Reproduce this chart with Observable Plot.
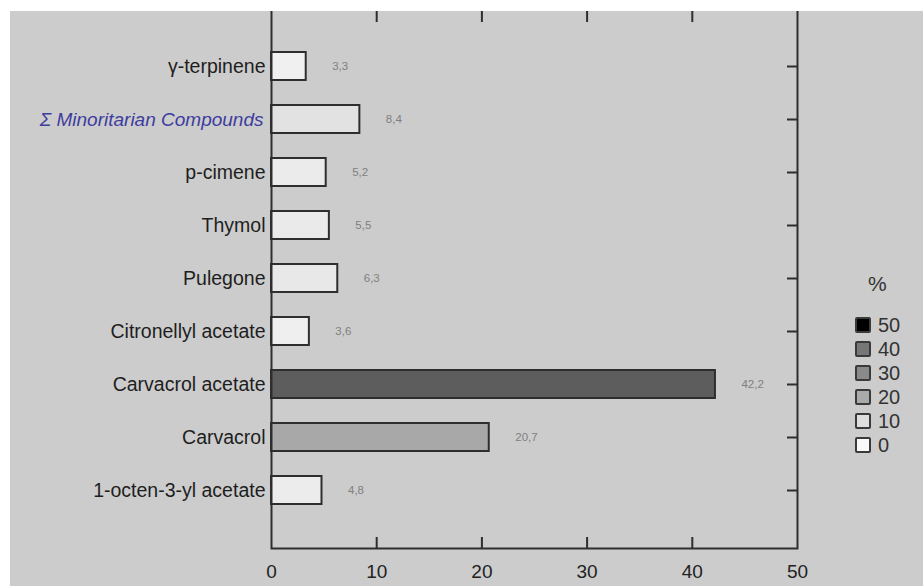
<!DOCTYPE html>
<html>
<head>
<meta charset="utf-8">
<script src="https://cdn.jsdelivr.net/npm/d3@7"></script>
<script src="https://cdn.jsdelivr.net/npm/@observablehq/plot@0.6"></script>
<style>
  html, body { margin: 0; padding: 0; background: #ffffff; width: 923px; height: 586px; overflow: hidden; }
  #panel { position: absolute; left: 10px; top: 11px; width: 913px; height: 575px; background: #cccccc; overflow: hidden; }
  #chart { position: absolute; left: -10px; top: -11px; }
  #legend { position: absolute; left: 0; top: 0; font-family: "Liberation Sans", Arial, sans-serif; color: #333; }
  .lg-title { position: absolute; left: 858px; top: 261px; font-size: 21px; }
  .lg-row { position: absolute; left: 845px; height: 20px; display: flex; align-items: center; font-size: 20px; white-space: nowrap; }
  .lg-sw { width: 12px; height: 12px; border: 2px solid #3a3a3a; border-radius: 2px; margin-right: 7px; }
</style>
</head>
<body>
<div id="panel"><div id="chart"></div><div id="legend"></div></div>
<script>
const compounds = ["γ-terpinene", "Σ Minoritarian Compounds", "p-cimene", "Thymol", "Pulegone", "Citronellyl acetate", "Carvacrol acetate", "Carvacrol", "1-octen-3-yl acetate"];
const values = [3.3, 8.4, 5.2, 5.5, 6.3, 3.6, 42.2, 20.7, 4.8];
const xTicks = [0, 10, 20, 30, 40, 50];
const legendValues = [50, 40, 30, 20, 10, 0];
const colorStops = [0, 10, 20, 30, 40, 50];
const colorRange = ["#f9f9f9", "#dedede", "#aaaaaa", "#8a8a8a", "#777777", "#000000"];

const data = compounds.map((name, i) => ({name, value: values[i]}));
const fmt = v => d3.format(".1f")(v).replace(".", ",");
const W = 923, H = 586, mL = 271, mR = 126, mT = 0, mB = 38;
const plotW = W - mL - mR, plotH = H - mT - mB;
const font = '"Liberation Sans", Arial, sans-serif';

const plot = Plot.plot({
  width: W, height: H,
  marginLeft: mL, marginRight: mR, marginTop: mT, marginBottom: mB,
  style: {background: "transparent", fontFamily: font, fontSize: "19px", color: "#222"},
  x: {domain: [0, 50], label: null},
  y: {domain: compounds, range: [35.5, 520.5], paddingInner: 0.48, paddingOuter: 0.24, align: 0.5, axis: null},
  color: {type: "linear", domain: colorStops, range: colorRange, interpolate: "rgb"},
  marks: [
    Plot.barX(data, {x: "value", y: "name", fill: d => d.value, stroke: "#2e2e2e", strokeWidth: 2}),
    Plot.frame({stroke: "#2e2e2e", strokeWidth: 2}),
    Plot.ruleX(xTicks.slice(1, -1), {stroke: "#2e2e2e", strokeWidth: 2, insetTop: 11, insetBottom: plotH - 22}),
    Plot.ruleX(xTicks.slice(1, -1), {stroke: "#2e2e2e", strokeWidth: 2, insetTop: plotH - 11, insetBottom: 0}),
    Plot.tickY(compounds, {y: d => d, stroke: "#2e2e2e", strokeWidth: 2, insetLeft: plotW - 10}),
    Plot.axisX({ticks: xTicks, tickSize: 0, tickPadding: 16, fontSize: 19, label: null}),
    Plot.text(data.filter(d => !d.name.startsWith("Σ")), {x: 0, y: "name", text: "name", textAnchor: "end", dx: -6, fontSize: 19.5, fill: "#1e1e1e"}),
    Plot.text(data.filter(d => d.name.startsWith("Σ")), {x: 0, y: "name", text: "name", textAnchor: "end", dx: -8, fontSize: 19, fontStyle: "italic", fill: "#3d3d9f"}),
    Plot.text(data, {x: "value", y: "name", text: d => fmt(d.value), textAnchor: "start", dx: 26, fontSize: 11.5, fill: "#808080"})
  ]
});
document.getElementById("chart").appendChild(plot);

const color = plot.scale("color");
const lg = d3.select("#legend");
lg.append("div").attr("class", "lg-title").text("%");
legendValues.forEach((v, i) => {
  const row = lg.append("div").attr("class", "lg-row").style("top", (304 + i * 24) + "px");
  row.append("div").attr("class", "lg-sw").style("background", color.apply(v));
  row.append("span").text(String(v));
});
</script>
</body>
</html>
